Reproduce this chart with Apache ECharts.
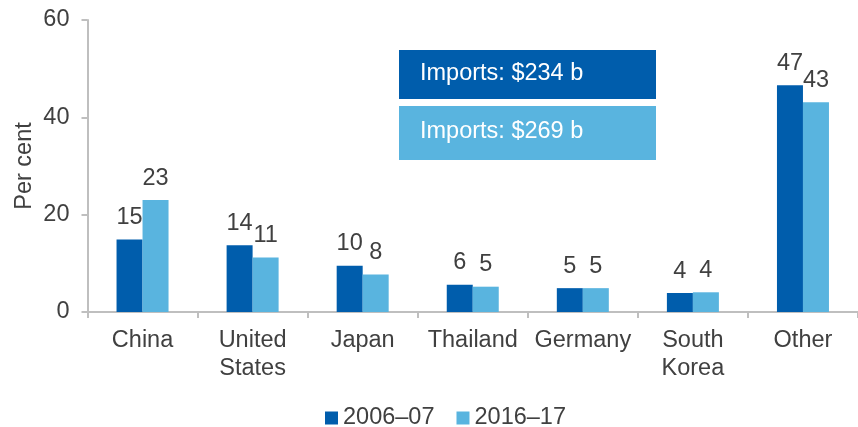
<!DOCTYPE html>
<html>
<head>
<meta charset="utf-8">
<script src="https://cdn.jsdelivr.net/npm/echarts@6/dist/echarts.min.js"></script>
<style>
  html, body { margin: 0; padding: 0; background: #fff; }
  #chartWrap { width: 858px; height: 427px; }
</style>
</head>
<body>
<div id="chartWrap"></div>
<script>
// values
const categories = ['China', 'United\nStates', 'Japan', 'Thailand', 'Germany', 'South\nKorea', 'Other'];
const share0607 = [14.9, 13.7, 9.5, 5.6, 4.9, 3.9, 46.6];
const share1617 = [23.0, 11.2, 7.7, 5.2, 4.9, 4.05, 43.1];
const seriesNames = ['2006–07', '2016–17'];
const importNotes = ['Imports: $234 b', 'Imports: $269 b'];
const yTicks = [0, 20, 40, 60];

const DARK = '#005DAC';
const LIGHT = '#59B4DF';
const TEXT = '#404040';
const AXIS = '#BFBFBF';
const FONT = '"Liberation Sans", Arial, sans-serif';
const FS = 23.5;

const chart = echarts.init(document.getElementById('chartWrap'));

const labelStyle = {
  show: true,
  position: 'top',
  distance: 10,
  color: TEXT,
  fontSize: FS,
  fontFamily: FONT,
  formatter: p => Math.round(p.value)
};

chart.setOption({
  animation: false,
  textStyle: { fontFamily: FONT },
  grid: { left: 87.5, right: -4.5, top: 20, bottom: 115, containLabel: false },
  legend: {
    data: seriesNames,
    left: 320,
    top: 401,
    itemWidth: 13,
    itemHeight: 13,
    itemGap: 22,
    icon: 'rect',
    textStyle: { color: TEXT, fontSize: FS, fontFamily: FONT }
  },
  xAxis: {
    type: 'category',
    data: categories,
    axisLine: { lineStyle: { color: AXIS, width: 2 } },
    axisTick: { show: true, length: 6, lineStyle: { color: AXIS, width: 2 } },
    axisLabel: { color: TEXT, fontSize: FS, fontFamily: FONT, margin: 15, lineHeight: 28, interval: 0 }
  },
  yAxis: {
    type: 'value',
    min: yTicks[0],
    max: yTicks[yTicks.length - 1],
    interval: 20,
    name: 'Per cent',
    nameLocation: 'middle',
    nameGap: 51,
    nameMoveOverlap: false,
    nameRotate: 90,
    nameTextStyle: { color: TEXT, fontSize: FS, fontFamily: FONT },
    splitLine: { show: false },
    axisLine: { show: true, lineStyle: { color: AXIS, width: 2 } },
    axisTick: { show: true, length: 6, lineStyle: { color: AXIS, width: 2 } },
    axisLabel: { color: TEXT, fontSize: FS, fontFamily: FONT, margin: 18 }
  },
  series: [
    {
      name: seriesNames[0],
      type: 'bar',
      data: share0607,
      barWidth: 26,
      barGap: '0%',
      itemStyle: { color: DARK },
      label: labelStyle
    },
    {
      name: seriesNames[1],
      type: 'bar',
      data: share1617,
      barWidth: 26,
      itemStyle: { color: LIGHT },
      label: labelStyle
    }
  ],
  graphic: [
    {
      type: 'rect',
      left: 399, top: 50,
      shape: { width: 257, height: 49 },
      style: { fill: DARK }
    },
    {
      type: 'text',
      left: 420, top: 62,
      style: { text: importNotes[0], fill: '#fff', fontSize: FS, fontFamily: FONT }
    },
    {
      type: 'rect',
      left: 399, top: 106,
      shape: { width: 257, height: 54 },
      style: { fill: LIGHT }
    },
    {
      type: 'text',
      left: 420, top: 120,
      style: { text: importNotes[1], fill: '#fff', fontSize: FS, fontFamily: FONT }
    }
  ]
});
</script>
</body>
</html>
